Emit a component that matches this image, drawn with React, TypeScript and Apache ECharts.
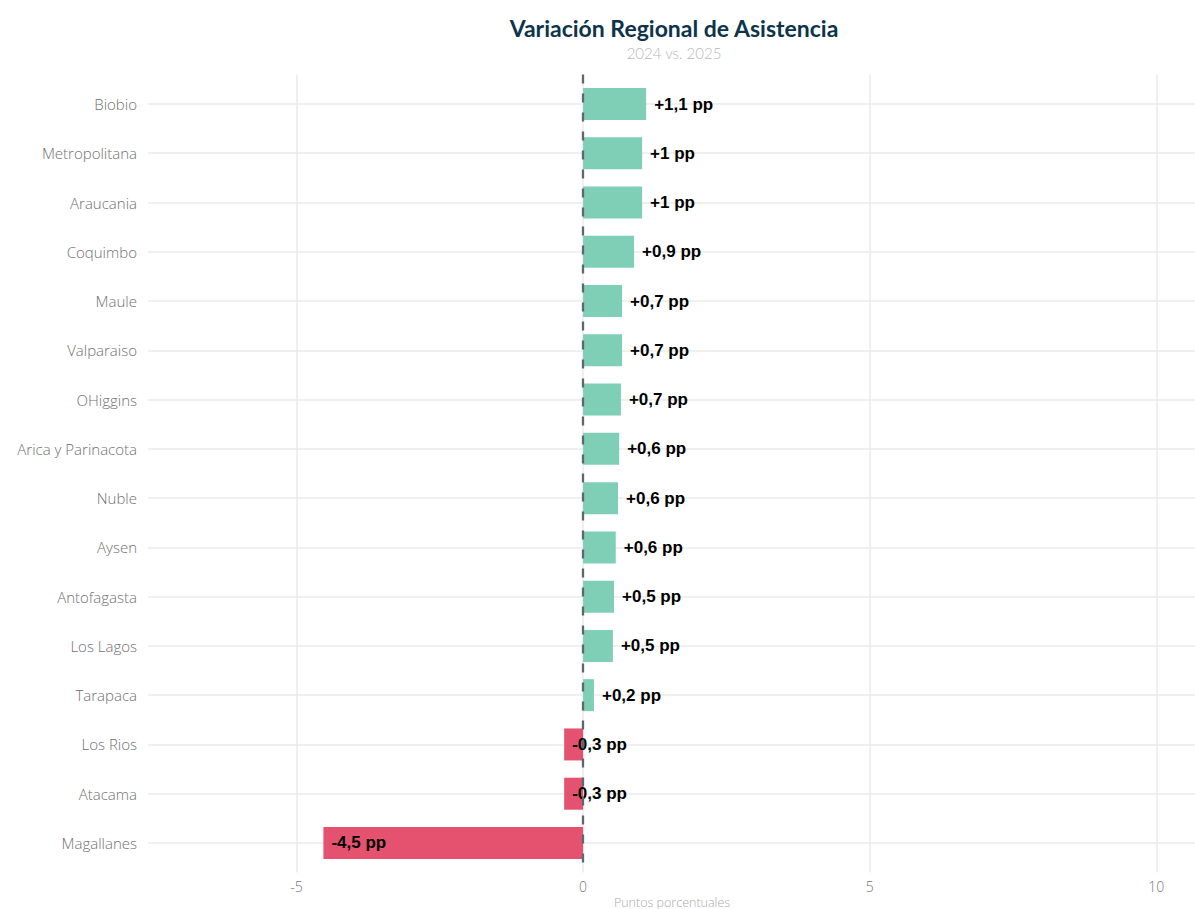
import { useEffect, useRef } from 'react';
import * as echarts from 'echarts';

const regions = [
  'Biobio', 'Metropolitana', 'Araucania', 'Coquimbo', 'Maule', 'Valparaiso', 'OHiggins',
  'Arica y Parinacota', 'Nuble', 'Aysen', 'Antofagasta', 'Los Lagos', 'Tarapaca',
  'Los Rios', 'Atacama', 'Magallanes',
];
const variation = [1.1, 1.03, 1.03, 0.89, 0.68, 0.68, 0.66, 0.63, 0.61, 0.57, 0.54, 0.52, 0.19, -0.33, -0.33, -4.53];
const xTicks = [-5, 0, 5, 10];
const xMin = -7.59;
const xMax = 10.675;
const rowTicks = regions.map((_, i) => i);

const titleText = 'Variación Regional de Asistencia';
const subtitleText = '2024 vs. 2025';
const xName = 'Puntos porcentuales';

const fmt = (v: number) => {
  let s = Math.abs(v).toFixed(1);
  if (s.endsWith('.0')) s = s.slice(0, -2);
  return (v >= 0 ? '+' : '-') + s.replace('.', ',') + ' pp';
};

const FONT = 'Lato, "Open Sans", sans-serif';
const LABEL_FONT = '"Open Sans", Lato, sans-serif';

export default function App() {
  const ref = useRef<HTMLDivElement>(null);
  useEffect(() => {
    if (!ref.current) return;
    const chart = echarts.init(ref.current, undefined, { renderer: 'svg' });
    const option: any = {
      animation: false,
      backgroundColor: '#ffffff',
      graphic: [
        {
          type: 'text', x: 674, y: 28,
          style: { text: titleText, fill: '#0d344a', font: `bold 23px ${FONT}`, textAlign: 'center', textVerticalAlign: 'middle' },
        },
        {
          type: 'text', x: 674, y: 53,
          style: { text: subtitleText, fill: '#b8b8b8', font: `300 15px ${FONT}`, textAlign: 'center', textVerticalAlign: 'middle' },
        },
        {
          type: 'text', x: 672, y: 902,
          style: { text: xName, fill: '#aaaaaa', font: `300 12.5px ${LABEL_FONT}`, textAlign: 'center', textVerticalAlign: 'middle' },
        },
      ],
      grid: [
        { left: 148, right: 0, top: 74.4, bottom: 36.4, outerBoundsMode: 'none', containLabel: false },
        { left: 148, right: 0, top: 79.4, bottom: 41.4, outerBoundsMode: 'none', containLabel: false },
      ],
      xAxis: [
        {
          gridIndex: 0, type: 'value', min: xMin, max: xMax,
          axisLine: { show: false },
          axisTick: { show: false, customValues: xTicks },
          axisLabel: { customValues: xTicks, color: '#777777', fontSize: 14, fontFamily: LABEL_FONT, fontWeight: 300, margin: 7 },
          splitLine: { show: true, lineStyle: { color: '#ebebeb', width: 1.5 } },
        },
        { gridIndex: 1, type: 'value', min: xMin, max: xMax, show: false },
      ],
      yAxis: [
        {
          gridIndex: 0, type: 'value', min: -0.6, max: 15.6, inverse: true,
          axisLine: { show: false },
          axisLabel: { show: false },
          axisTick: { show: false, customValues: rowTicks },
          splitLine: { show: true, lineStyle: { color: '#ebebeb', width: 1.5 } },
        },
        {
          gridIndex: 1, type: 'category', data: regions, inverse: true,
          axisLine: { show: false }, axisTick: { show: false },
          axisLabel: { color: '#707070', fontSize: 15, fontFamily: LABEL_FONT, fontWeight: 300, margin: 11 },
          splitLine: { show: false },
        },
      ],
      series: [
        {
          type: 'line', xAxisIndex: 0, yAxisIndex: 0, data: [], z: 1,
          showSymbol: false, silent: true,
          markLine: {
            silent: true, symbol: 'none', label: { show: false },
            lineStyle: { type: [9, 10], color: '#5f6670', width: 2.3 },
            data: [{ xAxis: 0 }],
          },
        },
        {
          type: 'bar', xAxisIndex: 1, yAxisIndex: 1, barWidth: 32, z: 3,
          data: variation.map((v) => ({
            value: v,
            itemStyle: { color: v >= 0 ? '#7ecfb6' : '#e5526f' },
            label: { position: v >= 0 ? 'right' : 'insideLeft' },
          })),
          label: {
            show: true, distance: 8, color: '#000000', fontSize: 17, fontWeight: 'bold',
            fontFamily: '"Liberation Sans", Arial, sans-serif',
            formatter: (p: any) => fmt(p.value),
          },
        },
      ],
    };
    chart.setOption(option);
    return () => chart.dispose();
  }, []);
  return <div ref={ref} style={{ position: 'absolute', left: 0, top: 0, width: 1195, height: 909 }} />;
}
